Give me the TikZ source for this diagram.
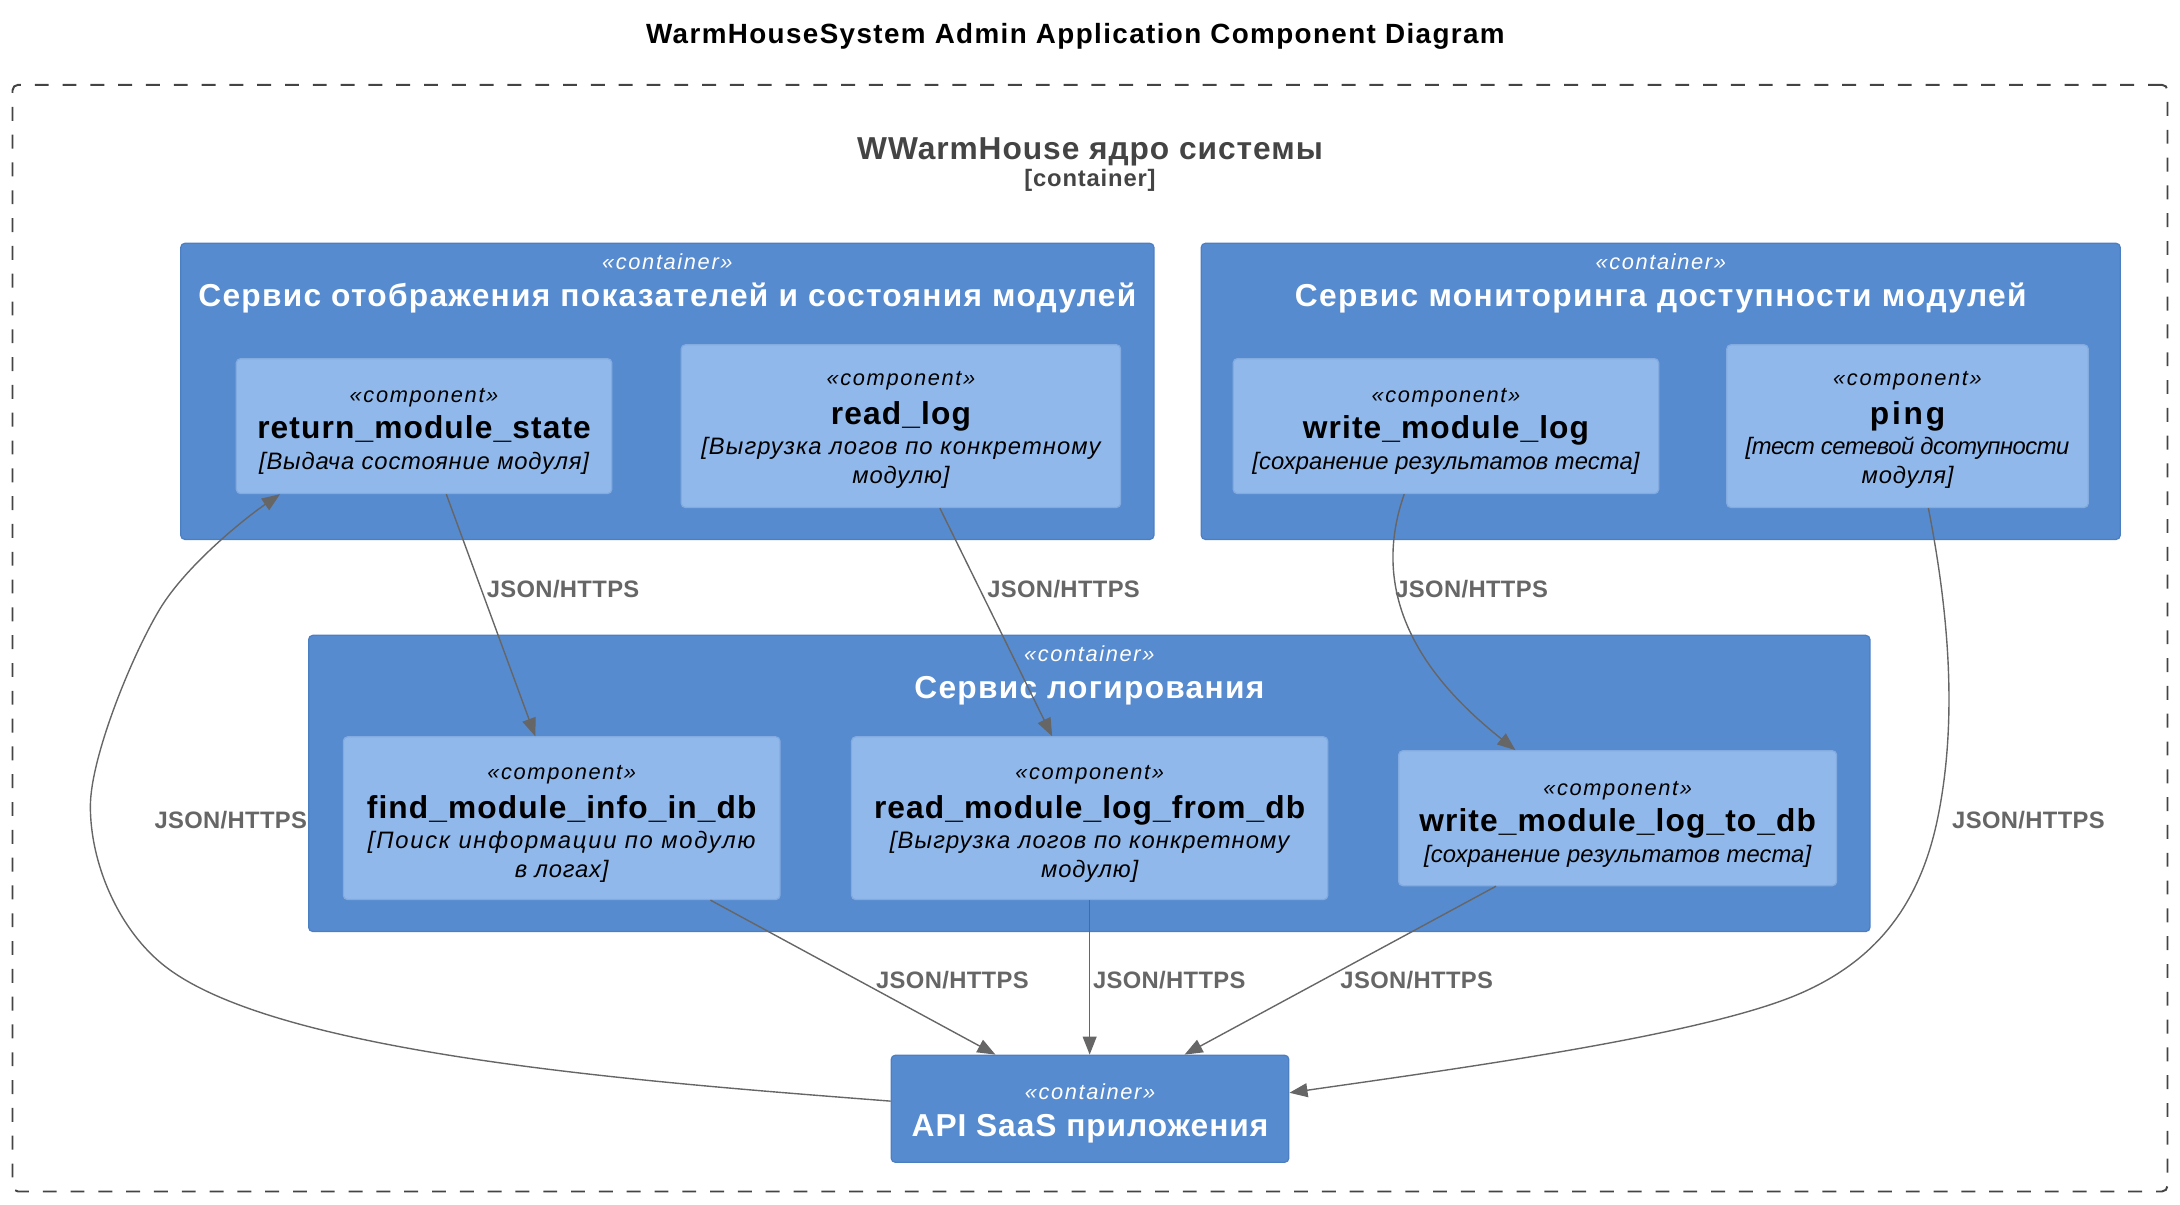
\documentclass[tikz,border=0pt]{standalone}
\usepackage{fontspec}
\setmainfont{Liberation Sans}
\usetikzlibrary{arrows.meta,calc}
\definecolor{contfill}{HTML}{578BCF}
\definecolor{contborder}{HTML}{4C7EC2}
\definecolor{compfill}{HTML}{91B8EA}
\definecolor{compborder}{HTML}{84ABDF}
\definecolor{relcol}{HTML}{666666}
\definecolor{btext}{HTML}{444444}
\definecolor{bline}{HTML}{444444}
\newcommand\FTitle{\fontsize{20}{24}\selectfont\bfseries\addfontfeature{LetterSpace=5}}
\newcommand\FBTitle{\fontsize{22.8}{27}\selectfont\bfseries\addfontfeature{LetterSpace=3}}
\newcommand\FBSub{\fontsize{17.1}{20}\selectfont\bfseries\addfontfeature{LetterSpace=3.5}}
\newcommand\FCTitleX[1]{\fontsize{22.8}{27}\selectfont\bfseries\addfontfeature{LetterSpace=#1}}
\newcommand\FStereo{\fontsize{15.7}{19}\selectfont\itshape\addfontfeature{LetterSpace=7.5}}
\newcommand\FNameX[1]{\fontsize{22.8}{27}\selectfont\bfseries\addfontfeature{LetterSpace=#1}}
\newcommand\FDescX[1]{\fontsize{17.1}{20}\selectfont\itshape\addfontfeature{LetterSpace=#1}}
\newcommand\FLabel{\fontsize{17.1}{20}\selectfont\bfseries\addfontfeature{LetterSpace=1.5}}
\tikzset{
  boundary/.style={draw=bline, line width=1.4pt, dash pattern=on 10pt off 10pt, rounded corners=4pt, inner sep=0pt},
  cont/.style={draw=contborder, fill=contfill, line width=0.9pt, rounded corners=3pt, inner sep=0pt},
  comp/.style={draw=compborder, fill=compfill, line width=0.9pt, rounded corners=3pt, inner sep=0pt},
  txt/.style={inner sep=0pt, anchor=base},
  wtxt/.style={txt, text=white},
  rel/.style={draw=relcol, line width=1pt, -{Triangle[length=13pt,width=10pt]}},
  lbl/.style={inner sep=0pt, anchor=base, text=relcol, font=\FLabel},
}
\begin{document}
\begin{tikzpicture}[x=1pt,y=-1pt]
\useasboundingbox (0,0) rectangle (1568,866);

% title
\node[txt,font=\FTitle] (title) at (773.5,31) {WarmHouseSystem Admin Application Component Diagram};

% system boundary
\node[boundary, minimum width=1550pt, minimum height=796pt] (bnd) at (784,459) {};
\node[txt,font=\FBTitle,text=btext] (bndt) at (784,114.6) {WWarmHouse ядро системы};
\node[txt,font=\FBSub,text=btext] (bnds) at (784,134) {[container]};

% container 1
\node[cont, minimum width=700pt, minimum height=213pt] (c1) at (480,281.5) {};
\node[wtxt,font=\FStereo] (c1s) at ($(c1.north)+(0,19)$) {«container»};
\node[wtxt,font={\FCTitleX{4}}] (c1t) at ($(c1.north)+(0,45.7)$) {Сервис отображения показателей и состояния модулей};

% container 2
\node[cont, minimum width=661pt, minimum height=213pt] (c2) at (1194.5,281.5) {};
\node[wtxt,font=\FStereo] (c2s) at ($(c2.north)+(0,19)$) {«container»};
\node[wtxt,font={\FCTitleX{4.4}}] (c2t) at ($(c2.north)+(0,45.7)$) {Сервис мониторинга доступности модулей};

% container 3
\node[cont, minimum width=1123pt, minimum height=213pt] (c3) at (783.5,563.5) {};
\node[wtxt,font=\FStereo] (c3s) at ($(c3.north)+(0,19.5)$) {«container»};
\node[wtxt,font={\FCTitleX{4}}] (c3t) at ($(c3.north)+(0,46.2)$) {Сервис логирования};

% API container
\node[cont, minimum width=286pt, minimum height=77pt] (api) at (784,797.5) {};
\node[wtxt,font=\FStereo] (apis) at ($(api.north)+(0,32.5)$) {«container»};
\node[wtxt,font={\FCTitleX{3}}] (apit) at ($(api.north)+(0,59)$) {API SaaS приложения};

% components (one-line descriptions)
\node[comp, minimum width=270pt, minimum height=97pt] (rms) at (305,306.5) {};
\node[txt,font=\FStereo] (rmss) at ($(rms.center)+(0,-17)$) {«component»};
\node[txt,font={\FNameX{3.5}}] (rmsn) at ($(rms.center)+(0,9.2)$) {return\_module\_state};
\node[txt,font={\FDescX{3.5}}] (rmsd) at ($(rms.center)+(0,31)$) {[Выдача состояние модуля]};

\node[comp, minimum width=306pt, minimum height=97pt] (wml) at (1040,306.5) {};
\node[txt,font=\FStereo] (wmls) at ($(wml.center)+(0,-17)$) {«component»};
\node[txt,font={\FNameX{3.5}}] (wmln) at ($(wml.center)+(0,9.2)$) {write\_module\_log};
\node[txt,font={\FDescX{0.4}}] (wmld) at ($(wml.center)+(0,31)$) {[сохранение результатов теста]};

\node[comp, minimum width=315pt, minimum height=97pt] (wdb) at (1163.5,588.5) {};
\node[txt,font=\FStereo] (wdbs) at ($(wdb.center)+(0,-16.5)$) {«component»};
\node[txt,font={\FNameX{3.5}}] (wdbn) at ($(wdb.center)+(0,9.8)$) {write\_module\_log\_to\_db};
\node[txt,font={\FDescX{0.4}}] (wdbd) at ($(wdb.center)+(0,32)$) {[сохранение результатов теста]};

% components (two-line descriptions)
\node[comp, minimum width=316pt, minimum height=117pt] (rl) at (648,306.5) {};
\node[txt,font=\FStereo] (rls) at ($(rl.center)+(0,-29)$) {«component»};
\node[txt,font={\FNameX{3.5}}] (rln) at ($(rl.center)+(0,-1.2)$) {read\_log};
\node[txt,font={\FDescX{4.7}}] (rld1) at ($(rl.center)+(0,20.4)$) {[Выгрузка логов по конкретному};
\node[txt,font={\FDescX{3.5}}] (rld2) at ($(rl.center)+(0,41.4)$) {модулю]};

\node[comp, minimum width=260pt, minimum height=117pt] (ping) at (1372,306.5) {};
\node[txt,font=\FStereo] (pings) at ($(ping.center)+(0,-29)$) {«component»};
\node[txt,font={\FNameX{9}}] (pingn) at ($(ping.center)+(0,-1.2)$) {ping};
\node[txt,font={\FDescX{-2}}] (pingd1) at ($(ping.center)+(0,20.4)$) {[тест сетевой дсотупности};
\node[txt,font={\FDescX{3.5}}] (pingd2) at ($(ping.center)+(0,41.4)$) {модуля]};

\node[comp, minimum width=314pt, minimum height=117pt] (find) at (404,588.5) {};
\node[txt,font=\FStereo] (finds) at ($(find.center)+(0,-27.5)$) {«component»};
\node[txt,font={\FNameX{3.5}}] (findn) at ($(find.center)+(0,0.3)$) {find\_module\_info\_in\_db};
\node[txt,font={\FDescX{7.4}}] (findd1) at ($(find.center)+(0,21.9)$) {[Поиск информации по модулю};
\node[txt,font={\FDescX{3.5}}] (findd2) at ($(find.center)+(0,42.9)$) {в логах]};

\node[comp, minimum width=342.5pt, minimum height=117pt] (rdb) at (783.75,588.5) {};
\node[txt,font=\FStereo] (rdbs) at ($(rdb.center)+(0,-27.5)$) {«component»};
\node[txt,font={\FNameX{3.5}}] (rdbn) at ($(rdb.center)+(0,0.3)$) {read\_module\_log\_from\_db};
\node[txt,font={\FDescX{4.7}}] (rdbd1) at ($(rdb.center)+(0,21.9)$) {[Выгрузка логов по конкретному};
\node[txt,font={\FDescX{3.5}}] (rdbd2) at ($(rdb.center)+(0,42.9)$) {модулю]};

% waypoints
\coordinate (pw1) at (1394,587);
\coordinate (pw2) at (1294.7,714.6);
\coordinate (lw1) at (115,692);
\coordinate (lw2) at (65,580);
\coordinate (lw3) at (115,438);

% relations
\draw[rel] ([xshift=16pt]rms.south) -- ([xshift=-19pt]find.north);
\draw[rel] ([xshift=28pt]rl.south) -- ([xshift=-27pt]rdb.north);
\draw[rel] ([xshift=-30pt]wml.south) .. controls +(-30,85) and +(-50,-40) .. ([xshift=-73.5pt]wdb.north);
\draw[rel] ([xshift=15pt]ping.south) .. controls +(17.6,90) and +(12,-60) .. (pw1)
  .. controls +(-12.6,63) and +(55.3,-24) .. (pw2)
  .. controls +(-69,30) and +(121,-17.4) .. ([yshift=11.5pt]api.east);
\draw[rel] ([yshift=5.5pt]api.west) .. controls +(-180,-14) and +(77,66) .. (lw1)
  .. controls +(-31,-26.4) and +(0,40) .. (lw2)
  .. controls +(0,-35) and +(-20.5,34) .. (lw3)
  .. controls +(18.5,-30.6) and +(-27,18.6) .. ([xshift=-103.6pt]rms.south);
\draw[rel] ([xshift=107pt]find.south) -- ([xshift=-68pt]api.north);
\draw[rel] (rdb.south) -- (rdb.south |- api.north);
\draw[rel] ([xshift=-87.5pt]wdb.south) -- ([xshift=68pt]api.north);

% labels
\node[lbl] (l1) at (405,429.6) {JSON/HTTPS};
\node[lbl] (l2) at (765,429.6) {JSON/HTTPS};
\node[lbl] (l3) at (1058.5,429.6) {JSON/HTTPS};
\node[lbl] (l4) at (166,596.2) {JSON/HTTPS};
\node[lbl] (l5) at (1459,596.2) {JSON/HTTPS};
\node[lbl] (l6) at (685,711.2) {JSON/HTTPS};
\node[lbl] (l7) at (841,711.2) {JSON/HTTPS};
\node[lbl] (l8) at (1019,711.2) {JSON/HTTPS};
\end{tikzpicture}
\end{document}
